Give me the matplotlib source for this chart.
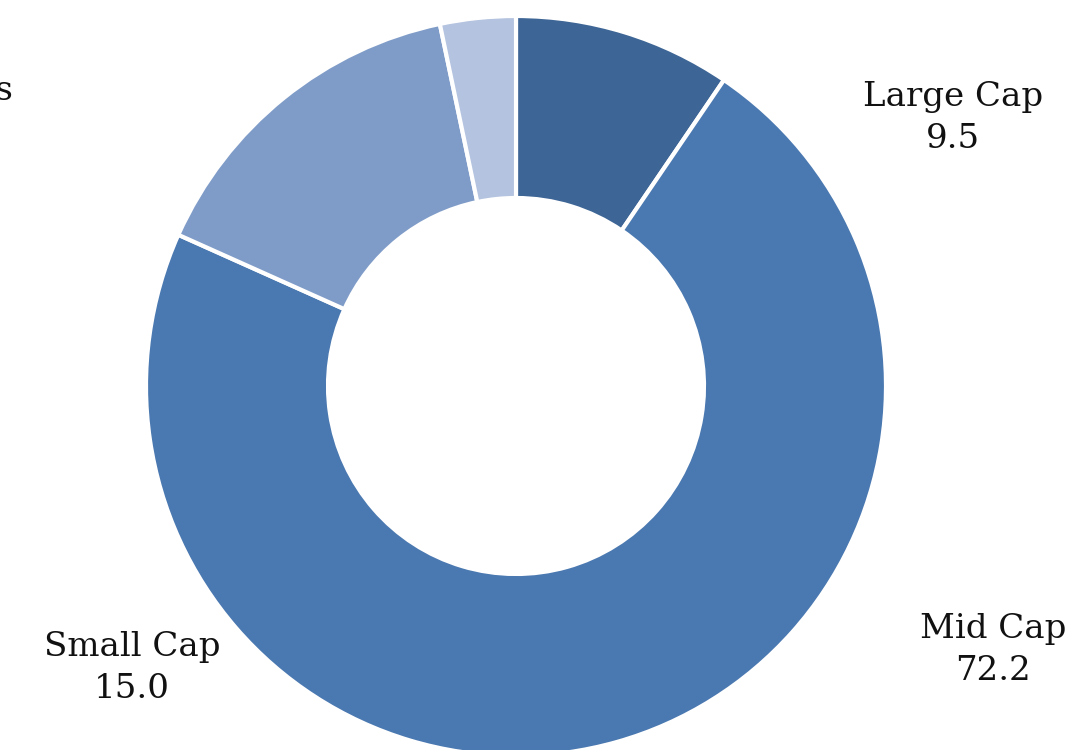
import matplotlib
matplotlib.use("Agg")
import matplotlib.pyplot as plt

categories = ["Large Cap", "Mid Cap", "Small Cap", "Micro Caps"]
values = [9.5, 72.2, 15.0, 3.3]
colors = ["#3d6595", "#4a78b0", "#7f9cc8", "#b4c3df"]

W, H = 1076, 750
fig = plt.figure(figsize=(W / 100, H / 100), dpi=100)
ax = fig.add_axes([0, 0, 1, 1])

cx, cy = 516, H - 386
R_out, R_in = 370, 188
ax.pie(values, colors=colors, startangle=90, counterclock=False,
       radius=R_out, center=(cx, cy), frame=True,
       wedgeprops=dict(width=R_out - R_in, edgecolor="white", linewidth=3))
ax.set_xlim(0, W)
ax.set_ylim(0, H)
ax.set_aspect("equal")
ax.axis("off")

label_pos = [(953, 118, "center"), (993, 650, "center"), (132, 668, "center"), (13, 112, "right")]
for (x, y, ha), name, v in zip(label_pos, categories, values):
    ax.text(x, H - y, f"{name}\n{v:.1f}", ha=ha, va="center", fontsize=24.5,
            family="DejaVu Serif", color="#111111", linespacing=1.38,
            multialignment="center")

fig.savefig("out.png", dpi=100)
